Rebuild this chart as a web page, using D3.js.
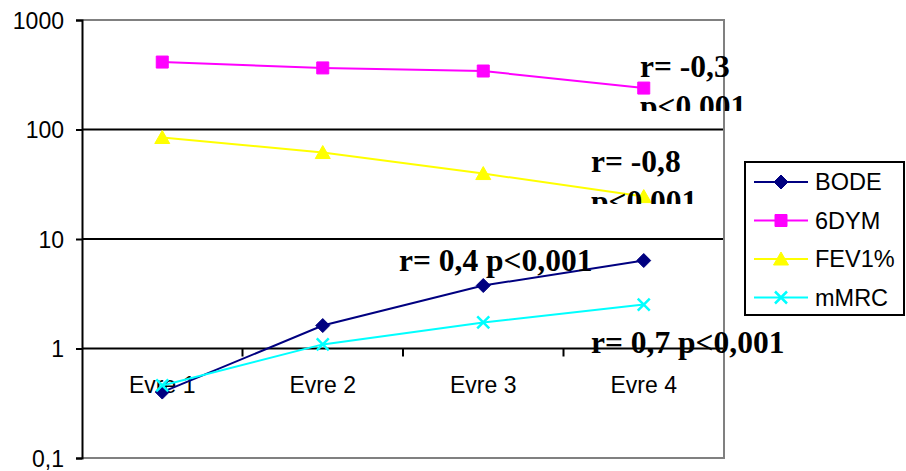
<!DOCTYPE html>
<html>
<head>
<meta charset="utf-8">
<script src="https://cdn.jsdelivr.net/npm/d3@7"></script>
<style>
  body { margin: 0; background: #fff; }
  svg { display: block; }
</style>
</head>
<body>
<svg width="906" height="471"></svg>
<script>
// categories and series
const categories = ['Evre 1', 'Evre 2', 'Evre 3', 'Evre 4'];
const bode = [0.40, 1.62, 3.76, 6.36];
const dym6 = [413, 365, 342, 239];
const fev1 = [84.5, 61.6, 39.6, 24.4];
const mmrc = [0.46, 1.09, 1.73, 2.52];
const yTicks = [0.1, 1, 10, 100, 1000];
const yTickLabels = ['0,1', '1', '10', '100', '1000'];

const series = [
    { name: 'BODE', values: bode, color: '#000080', marker: 'diamond' },
    { name: '6DYM', values: dym6, color: '#ff00ff', marker: 'square' },
    { name: 'FEV1%', values: fev1, color: '#ffff00', marker: 'triangle' },
    { name: 'mMRC', values: mmrc, color: '#00ffff', marker: 'cross' }
];

// annotations: text lines, position, clip bottom (text boxes cut off in the original)
const notes = [
    { lines: ['r= -0,3', 'p<0.001'], x: 640, y: 77, clip: 111 },
    { lines: ['r= -0,8', 'p<0.001'], x: 591, y: 172, clip: 204 },
    { lines: ['r= 0,4 p<0,001'], x: 399, y: 271, clip: 300 },
    { lines: ['r= 0,7 p<0,001'], x: 591, y: 353, clip: 380 }
];

const svg = d3.select('svg');
const plotLeft = 82, plotRight = 724, plotTop = 20, plotBottom = 458;

const x = d3.scaleBand().domain(categories).range([plotLeft, plotRight]);
const y = d3.scaleLog().domain([0.1, 1000]).range([plotBottom, plotTop]);

// gridlines at major decades
svg.append('g')
    .selectAll('line')
    .data([1, 10, 100])
    .join('line')
    .attr('x1', plotLeft).attr('x2', plotRight)
    .attr('y1', d => y(d)).attr('y2', d => y(d))
    .attr('stroke', '#000').attr('stroke-width', 2);

// plot border (top, right, bottom in grey)
svg.append('path')
    .attr('d', `M${plotLeft},${plotTop}H${plotRight}V${plotBottom}H${plotLeft}`)
    .attr('fill', 'none')
    .attr('stroke', '#808080')
    .attr('stroke-width', 2);

// y axis
const yAxis = svg.append('g')
    .attr('transform', `translate(${plotLeft},0)`)
    .call(d3.axisLeft(y).tickValues(yTicks)
        .tickFormat((d, i) => yTickLabels[i]).tickSize(6).tickPadding(12));
yAxis.select('.domain').attr('stroke', '#000').attr('stroke-width', 2);
yAxis.selectAll('.tick line').attr('stroke', '#000').attr('stroke-width', 2);
yAxis.selectAll('text')
    .attr('font-family', 'Liberation Sans, Arial, sans-serif')
    .attr('font-size', 23)
    .attr('fill', '#000')
    .attr('dy', '0.35em');

// x axis crossing at 1
const xAxis = svg.append('g')
    .attr('transform', `translate(0,${y(1)})`)
    .call(d3.axisBottom(x).tickSize(0).tickPadding(28));
xAxis.select('.domain').remove();
xAxis.selectAll('text')
    .attr('font-family', 'Liberation Sans, Arial, sans-serif')
    .attr('font-size', 23)
    .attr('fill', '#000');

// x ticks at category boundaries
svg.append('g')
    .selectAll('line')
    .data(categories.slice(1))
    .join('line')
    .attr('x1', d => x(d)).attr('x2', d => x(d))
    .attr('y1', y(1)).attr('y2', y(1) + 8)
    .attr('stroke', '#000').attr('stroke-width', 2);

function markerPath(type) {
    if (type === 'diamond') return 'M0,-7L7,0L0,7L-7,0Z';
    if (type === 'square') return 'M-6,-6H6V6H-6Z';
    if (type === 'triangle') return 'M0,-7L7.5,6H-7.5Z';
    return 'M-6,-6L6,6M-6,6L6,-6';
}

function drawMarker(g, s) {
    const p = g.append('path').attr('d', markerPath(s.marker));
    if (s.marker === 'cross') {
        p.attr('fill', 'none').attr('stroke', s.color).attr('stroke-width', 2.5);
    } else {
        p.attr('fill', s.color).attr('stroke', s.color);
    }
}

const line = d3.line()
    .x((d, i) => x(categories[i]) + x.bandwidth() / 2)
    .y(d => y(d));

series.forEach(s => {
    const g = svg.append('g');
    g.append('path')
        .datum(s.values)
        .attr('d', line)
        .attr('fill', 'none')
        .attr('stroke', s.color)
        .attr('stroke-width', 2);
    s.values.forEach((v, i) => {
        const m = g.append('g')
            .attr('transform', `translate(${x(categories[i]) + x.bandwidth() / 2},${y(v)})`);
        drawMarker(m, s);
    });
});

// legend
const legend = svg.append('g');
legend.append('rect')
    .attr('x', 745).attr('y', 162)
    .attr('width', 159).attr('height', 153)
    .attr('fill', '#fff').attr('stroke', '#000').attr('stroke-width', 2);
series.forEach((s, i) => {
    const ly = 182 + i * 38.5;
    const item = legend.append('g');
    item.append('line')
        .attr('x1', 754).attr('x2', 808)
        .attr('y1', ly).attr('y2', ly)
        .attr('stroke', s.color).attr('stroke-width', 2);
    drawMarker(item.append('g').attr('transform', `translate(781,${ly})`), s);
    item.append('text')
        .attr('x', 815).attr('y', ly + 8)
        .attr('font-family', 'Liberation Sans, Arial, sans-serif')
        .attr('font-size', 23.5)
        .text(s.name);
});

// annotations
const defs = svg.append('defs');
notes.forEach((n, i) => {
    defs.append('clipPath').attr('id', 'clip' + i)
        .append('rect')
        .attr('x', 0).attr('y', 0)
        .attr('width', 906).attr('height', n.clip);
    const t = svg.append('text')
        .attr('clip-path', `url(#clip${i})`)
        .attr('font-family', 'Liberation Serif, Times New Roman, serif')
        .attr('font-weight', 'bold')
        .attr('font-size', 31.5)
        .attr('fill', '#000');
    n.lines.forEach((l, j) => {
        t.append('tspan')
            .attr('x', n.x).attr('y', n.y + j * 40)
            .text(l);
    });
});
</script>
</body>
</html>
